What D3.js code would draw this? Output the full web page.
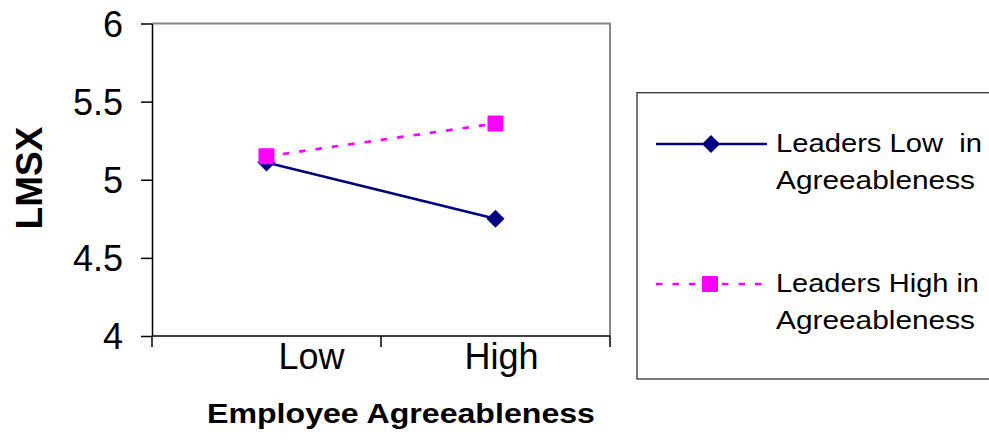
<!DOCTYPE html>
<html>
<head>
<meta charset="utf-8">
<script src="https://cdn.jsdelivr.net/npm/d3@7"></script>
<style>
  html, body { margin: 0; padding: 0; background: #fff; }
  svg { display: block; font-family: "Liberation Sans", Arial, sans-serif; }
</style>
</head>
<body>
<svg id="chart" width="989" height="441"></svg>
<script>
// Employee agreeableness categories and LMSX means for each leader group
const categories = ["Low", "High"];
const leadersLow = [5.11, 4.75];
const leadersHigh = [5.15, 5.36];
const yTicks = [4, 4.5, 5, 5.5, 6];
const seriesNames = [
  ["Leaders Low  in", "Agreeableness"],
  ["Leaders High in", "Agreeableness"]
];

const svg = d3.select("#chart");
const plot = { left: 152, right: 610, top: 23.5, bottom: 336 };

const x = d3.scaleBand().domain(categories).range([plot.left, plot.right]).padding(0);
const y = d3.scaleLinear().domain([4, 6]).range([plot.bottom, plot.top]);
const cx = c => x(c) + x.bandwidth() / 2;

// frame: grey top/right edges of the plot area
svg.append("path")
  .attr("d", `M${plot.left},${plot.top}H${plot.right}V${plot.bottom}`)
  .attr("fill", "none").attr("stroke", "#858585").attr("stroke-width", 2);

// y axis
const yAxis = d3.axisLeft(y).tickValues(yTicks).tickSize(11).tickSizeOuter(0)
  .tickPadding(18).tickFormat(d3.format("~g"));
const gy = svg.append("g").attr("transform", `translate(${plot.left},0)`).call(yAxis);
gy.select(".domain").attr("stroke", "#000").attr("stroke-width", 1.5);
gy.selectAll(".tick line").attr("stroke", "#000").attr("stroke-width", 1.5);
gy.selectAll(".tick text").attr("font-size", 36).attr("fill", "#000")
  .attr("font-family", "'Liberation Sans', Arial, sans-serif").attr("dy", "0.36em");

// x axis baseline and category boundary ticks
svg.append("line").attr("x1", plot.left).attr("x2", plot.right)
  .attr("y1", y(4)).attr("y2", y(4)).attr("stroke", "#000").attr("stroke-width", 1.5);
const bounds = categories.map(c => x(c)).concat([x(categories[categories.length - 1]) + x.bandwidth()]);
svg.selectAll(".xtick").data(bounds).join("line").attr("class", "xtick")
  .attr("x1", d => d).attr("x2", d => d)
  .attr("y1", y(4)).attr("y2", y(4) + 11)
  .attr("stroke", "#000").attr("stroke-width", 1.5);

const labelShift = { Low: 45, High: 6 };
svg.selectAll(".xlab").data(categories).join("text").attr("class", "xlab")
  .attr("x", d => cx(d) + labelShift[d]).attr("y", 369)
  .attr("text-anchor", "middle").attr("font-size", 36).attr("fill", "#000")
  .text(d => d);

// axis titles
svg.append("text").attr("transform", "translate(41.5,178) rotate(-90)")
  .attr("text-anchor", "middle").attr("font-size", 37).attr("font-weight", "bold")
  .text("LMSX");
svg.append("text").attr("x", 401).attr("y", 422.5)
  .attr("text-anchor", "middle").attr("font-size", 27.5).attr("font-weight", "bold")
  .attr("textLength", 388).attr("lengthAdjust", "spacingAndGlyphs")
  .text("Employee Agreeableness");

// series lines
const line = d3.line().x((d, i) => cx(categories[i])).y(d => y(d));
svg.append("path").datum(leadersLow).attr("d", line)
  .attr("fill", "none").attr("stroke", "#000080").attr("stroke-width", 2.7);
svg.append("path").datum(leadersHigh).attr("d", line)
  .attr("fill", "none").attr("stroke", "#FF00FF").attr("stroke-width", 2.7)
  .attr("stroke-dasharray", "6.5,10");

// markers
const diamond = (px, py) => `M${px},${py - 9}L${px + 9},${py}L${px},${py + 9}L${px - 9},${py}Z`;
svg.selectAll(".dm").data(leadersLow).join("path").attr("class", "dm")
  .attr("d", (d, i) => diamond(cx(categories[i]), y(d))).attr("fill", "#000080");
svg.selectAll(".sq").data(leadersHigh).join("rect").attr("class", "sq")
  .attr("x", (d, i) => cx(categories[i]) - 8).attr("y", d => y(d) - 8)
  .attr("width", 16).attr("height", 16).attr("rx", 1).attr("fill", "#FF00FF");

// legend
svg.append("rect").attr("x", 637).attr("y", 92.7).attr("width", 400).attr("height", 286.3)
  .attr("fill", "#fff").attr("stroke", "#333").attr("stroke-width", 1.3);
const legendRows = [144, 284];
svg.append("line").attr("x1", 656).attr("x2", 767).attr("y1", legendRows[0]).attr("y2", legendRows[0])
  .attr("stroke", "#000080").attr("stroke-width", 2.7);
svg.append("path").attr("d", diamond(711, legendRows[0])).attr("fill", "#000080");
svg.append("line").attr("x1", 656).attr("x2", 762).attr("y1", legendRows[1]).attr("y2", legendRows[1])
  .attr("stroke", "#FF00FF").attr("stroke-width", 2.7).attr("stroke-dasharray", "6.5,10");
svg.append("rect").attr("x", 702).attr("y", legendRows[1] - 8).attr("width", 16).attr("height", 16)
  .attr("rx", 1).attr("fill", "#FF00FF");

const lineWidths = [[206, 199], [203, 199]];
seriesNames.forEach((lines, i) => {
  const t = svg.append("text").attr("font-size", 26.5).attr("fill", "#000");
  lines.forEach((s, j) => {
    t.append("tspan").attr("x", 776).attr("y", legendRows[i] + 7.7 + j * 37)
      .attr("textLength", lineWidths[i][j]).attr("lengthAdjust", "spacingAndGlyphs")
      .attr("xml:space", "preserve").style("white-space", "pre")
      .text(s);
  });
});
</script>
</body>
</html>
